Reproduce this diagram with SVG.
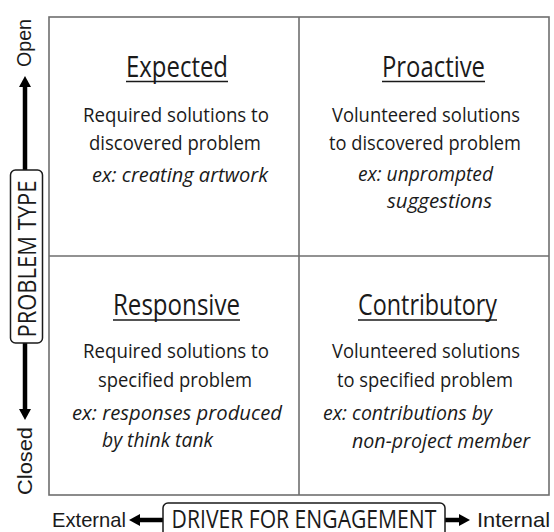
<svg xmlns="http://www.w3.org/2000/svg" width="554" height="532" viewBox="0 0 554 532">
  <style>
    .grid { fill: none; stroke: #6e6e6e; stroke-width: 1.6; }
    .title { font-family: "Open Sans", "Liberation Sans", sans-serif; font-size: 29px; fill: #1a1a1a; }
    .uline { stroke: #1a1a1a; stroke-width: 1.6; }
    .body { font-family: "Open Sans", "Liberation Sans", sans-serif; font-size: 20.5px; fill: #1a1a1a; }
    .ex { font-family: "Open Sans", "Liberation Sans", sans-serif; font-size: 20.5px; font-style: italic; fill: #1a1a1a; }
    .axis { font-family: "Liberation Sans", Arial, sans-serif; font-size: 21px; fill: #1a1a1a; }
    .axisbox { fill: #ffffff; stroke: #1a1a1a; stroke-width: 1.5; }
    .axistitle { font-family: "Open Sans", "Liberation Sans", sans-serif; font-size: 26px; fill: #1a1a1a; }
    .arrow { stroke: #000000; stroke-width: 4.5; fill: none; marker-end: url(#head); }
  </style>
  <defs>
    <marker id="head" markerUnits="userSpaceOnUse" markerWidth="11" markerHeight="12" refX="0" refY="6" orient="auto">
      <path d="M0,0 L11,6 L0,12 z" fill="#000000"/>
    </marker>
  </defs>

  <rect width="554" height="532" fill="#ffffff"/>

  <!-- quadrant frame -->
  <g id="frame">
    <rect class="grid" x="49" y="17" width="500" height="478"/>
    <line class="grid" x1="299" y1="17" x2="299" y2="495"/>
    <line class="grid" x1="49" y1="256" x2="549" y2="256"/>
  </g>

  <!-- top-left quadrant -->
  <g id="expected">
    <text class="title" x="126" y="77" textLength="102" lengthAdjust="spacingAndGlyphs">Expected</text>
    <line class="uline" x1="126" y1="81.5" x2="228" y2="81.5"/>
    <text class="body" x="83" y="122" textLength="186" lengthAdjust="spacingAndGlyphs">Required solutions to</text>
    <text class="body" x="89" y="150" textLength="172" lengthAdjust="spacingAndGlyphs">discovered problem</text>
    <text class="ex" x="92" y="182" textLength="176" lengthAdjust="spacingAndGlyphs">ex: creating artwork</text>
  </g>

  <!-- top-right quadrant -->
  <g id="proactive">
    <text class="title" x="382" y="77" textLength="103" lengthAdjust="spacingAndGlyphs">Proactive</text>
    <line class="uline" x1="382" y1="81.5" x2="485" y2="81.5"/>
    <text class="body" x="332" y="122" textLength="188" lengthAdjust="spacingAndGlyphs">Volunteered solutions</text>
    <text class="body" x="329" y="150" textLength="192" lengthAdjust="spacingAndGlyphs">to discovered problem</text>
    <text class="ex" x="358" y="181" textLength="135" lengthAdjust="spacingAndGlyphs">ex: unprompted</text>
    <text class="ex" x="387" y="208" textLength="105" lengthAdjust="spacingAndGlyphs">suggestions</text>
  </g>

  <!-- bottom-left quadrant -->
  <g id="responsive">
    <text class="title" x="113" y="315" textLength="127" lengthAdjust="spacingAndGlyphs">Responsive</text>
    <line class="uline" x1="113" y1="320" x2="240" y2="320"/>
    <text class="body" x="83" y="358" textLength="186" lengthAdjust="spacingAndGlyphs">Required solutions to</text>
    <text class="body" x="98" y="387" textLength="154" lengthAdjust="spacingAndGlyphs">specified problem</text>
    <text class="ex" x="72" y="420" textLength="210" lengthAdjust="spacingAndGlyphs">ex: responses produced</text>
    <text class="ex" x="102" y="447" textLength="111" lengthAdjust="spacingAndGlyphs">by think tank</text>
  </g>

  <!-- bottom-right quadrant -->
  <g id="contributory">
    <text class="title" x="358" y="315" textLength="139" lengthAdjust="spacingAndGlyphs">Contributory</text>
    <line class="uline" x1="358" y1="320" x2="497" y2="320"/>
    <text class="body" x="332" y="358" textLength="188" lengthAdjust="spacingAndGlyphs">Volunteered solutions</text>
    <text class="body" x="337" y="387" textLength="176" lengthAdjust="spacingAndGlyphs">to specified problem</text>
    <text class="ex" x="323" y="420" textLength="169" lengthAdjust="spacingAndGlyphs">ex: contributions by</text>
    <text class="ex" x="352" y="448" textLength="178" lengthAdjust="spacingAndGlyphs">non-project member</text>
  </g>

  <!-- axis arrows -->
  <g id="connectors">
    <line class="arrow" x1="25" y1="170" x2="25" y2="87"/>
    <line class="arrow" x1="25" y1="343" x2="25" y2="409"/>
    <line class="arrow" x1="163" y1="520" x2="140" y2="520"/>
    <line class="arrow" x1="445" y1="520" x2="459" y2="520"/>
  </g>

  <!-- vertical axis -->
  <g id="problem-type">
    <rect class="axisbox" x="10.5" y="170" width="32" height="173" rx="5"/>
    <text class="axistitle" transform="translate(36,259) rotate(-90)" text-anchor="middle" textLength="157" lengthAdjust="spacingAndGlyphs">PROBLEM TYPE</text>
  </g>
  <g id="open-label">
    <text class="axis" transform="translate(31,67) rotate(-90)" textLength="48" lengthAdjust="spacingAndGlyphs">Open</text>
  </g>
  <g id="closed-label">
    <text class="axis" transform="translate(32,495) rotate(-90)" textLength="68" lengthAdjust="spacingAndGlyphs">Closed</text>
  </g>

  <!-- horizontal axis -->
  <g id="driver">
    <rect class="axisbox" x="163" y="503" width="282" height="34" rx="5"/>
    <text class="axistitle" transform="translate(304,528) scale(0.8,1)" text-anchor="middle" textLength="331" lengthAdjust="spacingAndGlyphs">DRIVER FOR ENGAGEMENT</text>
  </g>
  <g id="external-label">
    <text class="axis" x="52" y="527" textLength="74" lengthAdjust="spacingAndGlyphs">External</text>
  </g>
  <g id="internal-label">
    <text class="axis" x="477" y="527" textLength="73" lengthAdjust="spacingAndGlyphs">Internal</text>
  </g>
</svg>
